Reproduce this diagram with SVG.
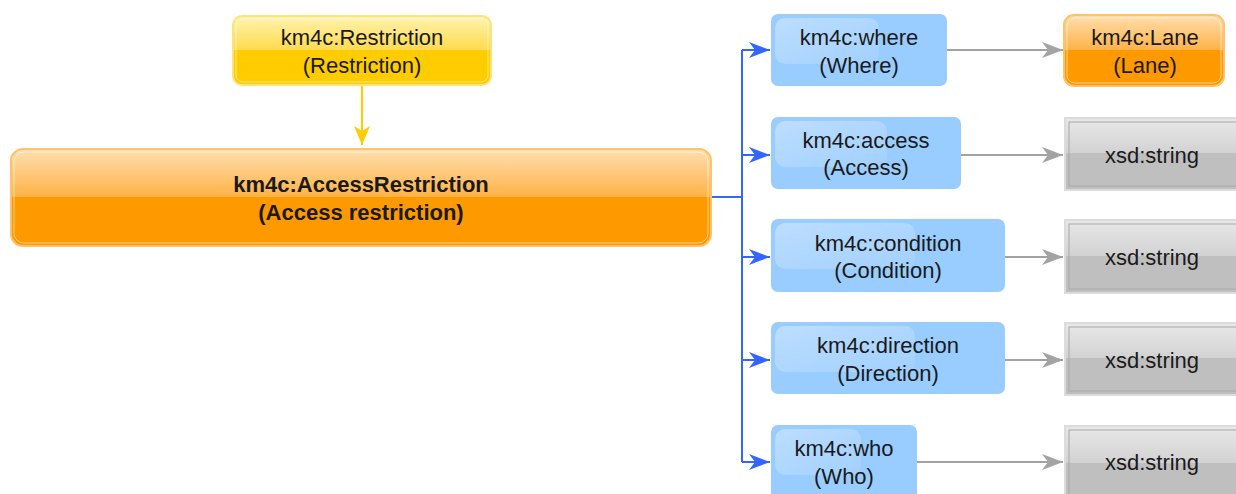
<svg xmlns="http://www.w3.org/2000/svg" width="1236" height="494" viewBox="0 0 1236 494">
<style>
text{font-family:"Liberation Sans",Arial,sans-serif;font-size:22px;fill:#1a1a1a;text-anchor:middle}
.b{font-weight:bold}
.blue{fill:#99ccff}
.gloss{fill:url(#gGloss)}
.gray{fill:url(#gGray);stroke:#dcdcdc;stroke-width:2}
.grayIn{fill:none;stroke:#a8a8a8;stroke-width:1}
.orange{stroke:#ffc26b;stroke-width:2}
.inner{fill:none;stroke:#ffffff;stroke-opacity:0.55;stroke-width:1}
</style>
<defs>
<linearGradient id="gYellow" x1="0" y1="0" x2="0" y2="1">
<stop offset="0" stop-color="#fff3b0"/><stop offset="0.49" stop-color="#ffdb4d"/><stop offset="0.49" stop-color="#ffcc00"/><stop offset="1" stop-color="#ffcc00"/>
</linearGradient>
<linearGradient id="gOrange" x1="0" y1="0" x2="0" y2="1">
<stop offset="0" stop-color="#ffdfb0"/><stop offset="0.49" stop-color="#ffb347"/><stop offset="0.49" stop-color="#ff9900"/><stop offset="1" stop-color="#ff9900"/>
</linearGradient>
<linearGradient id="gGray" x1="0" y1="0" x2="0" y2="1">
<stop offset="0" stop-color="#e8e8e8"/><stop offset="0.49" stop-color="#d2d2d2"/><stop offset="0.49" stop-color="#bfbfbf"/><stop offset="1" stop-color="#bfbfbf"/>
</linearGradient>
<linearGradient id="gGloss" x1="0" y1="0" x2="1" y2="1">
<stop offset="0" stop-color="#ffffff" stop-opacity="0.35"/><stop offset="1" stop-color="#ffffff" stop-opacity="0.08"/>
</linearGradient>
<marker id="aBlue" markerUnits="userSpaceOnUse" markerWidth="22" markerHeight="18" refX="21" refY="8" orient="auto">
<path d="M0,0 L21,8 L0,16 L6,8 z" fill="#3366ff"/>
</marker>
<marker id="aGray" markerUnits="userSpaceOnUse" markerWidth="22" markerHeight="18" refX="21" refY="8" orient="auto">
<path d="M0,0 L21,8 L0,16 L6,8 z" fill="#a3a3a3"/>
</marker>
<marker id="aYellow" markerUnits="userSpaceOnUse" markerWidth="22" markerHeight="18" refX="19" refY="8" orient="auto">
<path d="M0,0 L19,8 L0,16 L5,8 z" fill="#ffcc00"/>
</marker>
</defs>

<g id="connectors">
<line x1="362" y1="86" x2="362" y2="145" stroke="#ffcc00" stroke-width="2" marker-end="url(#aYellow)"/>
<path d="M712,197 H742 M742,50 V462" stroke="#3366ff" stroke-width="2" fill="none"/>
<line x1="742" y1="50" x2="770" y2="50" stroke="#3366ff" stroke-width="2" marker-end="url(#aBlue)"/>
<line x1="742" y1="155" x2="770" y2="155" stroke="#3366ff" stroke-width="2" marker-end="url(#aBlue)"/>
<line x1="742" y1="257" x2="770" y2="257" stroke="#3366ff" stroke-width="2" marker-end="url(#aBlue)"/>
<line x1="742" y1="360" x2="770" y2="360" stroke="#3366ff" stroke-width="2" marker-end="url(#aBlue)"/>
<line x1="742" y1="462" x2="770" y2="462" stroke="#3366ff" stroke-width="2" marker-end="url(#aBlue)"/>
<line x1="947" y1="50" x2="1063" y2="50" stroke="#a3a3a3" stroke-width="2" marker-end="url(#aGray)"/>
<line x1="961" y1="155" x2="1063" y2="155" stroke="#a3a3a3" stroke-width="2" marker-end="url(#aGray)"/>
<line x1="1005" y1="257" x2="1063" y2="257" stroke="#a3a3a3" stroke-width="2" marker-end="url(#aGray)"/>
<line x1="1005" y1="360" x2="1063" y2="360" stroke="#a3a3a3" stroke-width="2" marker-end="url(#aGray)"/>
<line x1="917" y1="462" x2="1063" y2="462" stroke="#a3a3a3" stroke-width="2" marker-end="url(#aGray)"/>
</g>

<g id="restriction">
<rect x="233" y="16" width="258" height="69" rx="9" fill="url(#gYellow)" stroke="#ffe27a" stroke-width="2"/>
<rect x="236" y="19" width="252" height="63" rx="7" class="inner"/>
<text x="362" y="45">km4c:Restriction</text>
<text x="362" y="73">(Restriction)</text>
</g>

<g id="accessRestriction">
<rect x="11" y="149" width="700" height="97" rx="12" fill="url(#gOrange)" class="orange"/>
<rect x="14" y="152" width="694" height="91" rx="10" class="inner"/>
<text class="b" x="361" y="192">km4c:AccessRestriction</text>
<text class="b" x="361" y="220">(Access restriction)</text>
</g>

<g id="where">
<rect x="771" y="14" width="176" height="72" rx="7" class="blue"/>
<rect x="775" y="18" width="104" height="46" rx="10" class="gloss"/>
<text x="859" y="45">km4c:where</text>
<text x="859" y="73">(Where)</text>
</g>

<g id="access">
<rect x="771" y="117" width="190" height="72" rx="7" class="blue"/>
<rect x="775" y="121" width="112" height="46" rx="10" class="gloss"/>
<text x="866" y="148">km4c:access</text>
<text x="866" y="175">(Access)</text>
</g>

<g id="condition">
<rect x="771" y="219" width="234" height="73" rx="7" class="blue"/>
<rect x="775" y="223" width="140" height="46" rx="10" class="gloss"/>
<text x="888" y="251">km4c:condition</text>
<text x="888" y="278">(Condition)</text>
</g>

<g id="direction">
<rect x="771" y="322" width="234" height="72" rx="7" class="blue"/>
<rect x="775" y="326" width="140" height="46" rx="10" class="gloss"/>
<text x="888" y="353">km4c:direction</text>
<text x="888" y="381">(Direction)</text>
</g>

<g id="who">
<rect x="771" y="425" width="146" height="76" rx="7" class="blue"/>
<rect x="775" y="429" width="86" height="46" rx="10" class="gloss"/>
<text x="844" y="456">km4c:who</text>
<text x="844" y="484">(Who)</text>
</g>

<g id="lane">
<rect x="1064" y="15" width="160" height="71" rx="10" fill="url(#gOrange)" class="orange"/>
<rect x="1067" y="18" width="154" height="65" rx="8" class="inner"/>
<text x="1145" y="45">km4c:Lane</text>
<text x="1145" y="73">(Lane)</text>
</g>

<g id="string1">
<rect x="1065" y="118" width="180" height="72" class="gray"/>
<rect x="1069" y="122" width="172" height="64" class="grayIn"/>
<text x="1152" y="163">xsd:string</text>
</g>
<g id="string2">
<rect x="1065" y="220" width="180" height="73" class="gray"/>
<rect x="1069" y="224" width="172" height="65" class="grayIn"/>
<text x="1152" y="265">xsd:string</text>
</g>
<g id="string3">
<rect x="1065" y="323" width="180" height="72" class="gray"/>
<rect x="1069" y="327" width="172" height="64" class="grayIn"/>
<text x="1152" y="368">xsd:string</text>
</g>
<g id="string4">
<rect x="1065" y="426" width="180" height="76" class="gray"/>
<rect x="1069" y="430" width="172" height="68" class="grayIn"/>
<text x="1152" y="470">xsd:string</text>
</g>
</svg>
